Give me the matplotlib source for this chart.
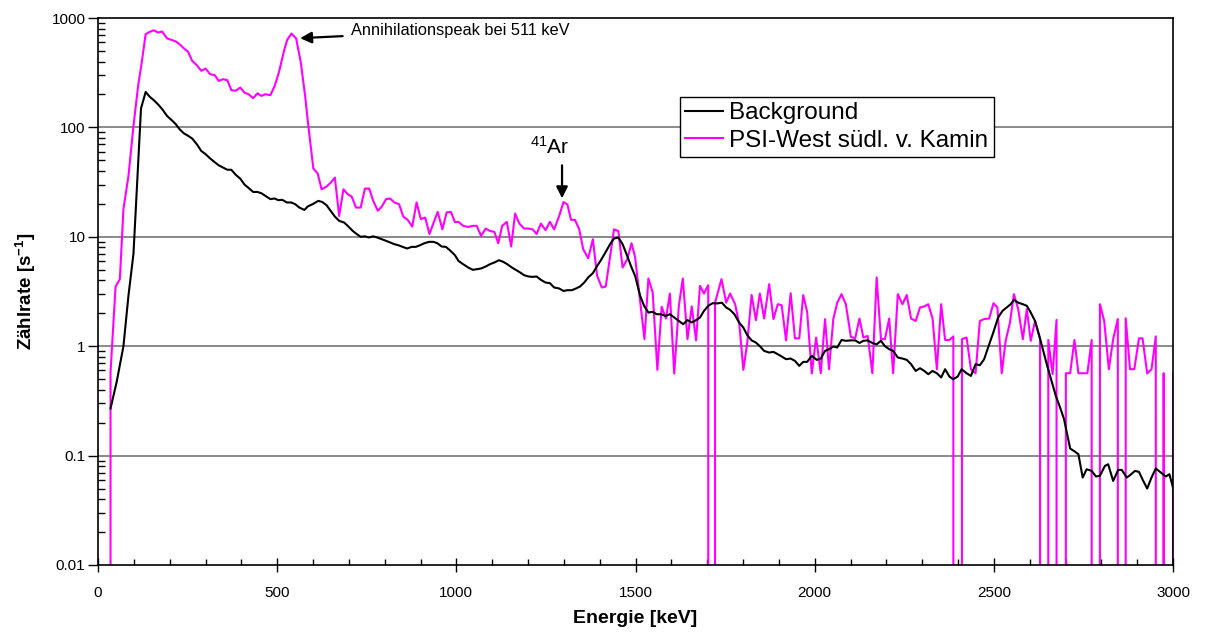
import matplotlib
matplotlib.use("Agg")
import matplotlib.pyplot as plt
from matplotlib.ticker import FixedLocator, FixedFormatter, MultipleLocator, LogLocator, NullFormatter

plt.rcParams['font.family'] = ['Liberation Sans', 'DejaVu Sans']

# ---------------- data ----------------
bg_energy = [35, 52, 71, 85, 99, 120, 133, 144, 156, 167, 179, 193, 205, 217, 228, 240, 251, 263, 276, 288,
             300, 313, 326, 337, 349, 361, 372, 384, 397, 409, 420, 433, 445, 456, 467, 481, 493, 503, 514, 527,
             539, 550, 562, 576, 585, 599, 615, 626, 638, 649, 661, 673, 687, 699, 711, 722, 733, 745, 756, 768,
             779, 792, 804, 815, 827, 838, 850, 863, 875, 887, 899, 911, 924, 936, 947, 959, 971, 984, 996, 1006,
             1019, 1033, 1046, 1057, 1069, 1082, 1094, 1106, 1119, 1131, 1142, 1155, 1166, 1178, 1189, 1201, 1213, 1224, 1236, 1249,
             1261, 1273, 1287, 1299, 1310, 1322, 1334, 1345, 1357, 1368, 1381, 1392, 1404, 1417, 1429, 1440, 1452, 1464, 1475, 1489,
             1499, 1513, 1524, 1536, 1548, 1559, 1571, 1584, 1596, 1608, 1621, 1633, 1645, 1657, 1669, 1680, 1691, 1703, 1715, 1728,
             1741, 1753, 1764, 1776, 1789, 1801, 1812, 1824, 1836, 1847, 1859, 1873, 1885, 1897, 1908, 1920, 1933, 1945, 1957, 1968,
             1979, 1992, 2006, 2017, 2029, 2040, 2052, 2063, 2075, 2087, 2101, 2113, 2125, 2136, 2148, 2161, 2173, 2185, 2196, 2208,
             2219, 2232, 2245, 2257, 2269, 2282, 2294, 2306, 2317, 2329, 2341, 2353, 2364, 2376, 2387, 2399, 2410, 2424, 2436, 2449,
             2461, 2473, 2487, 2497, 2512, 2524, 2536, 2547, 2556, 2568, 2581, 2592, 2603, 2615, 2627, 2638, 2649, 2661, 2673, 2685,
             2696, 2713, 2724, 2736, 2748, 2759, 2773, 2785, 2796, 2810, 2819, 2833, 2847, 2857, 2871, 2880, 2894, 2905, 2917, 2928,
             2940, 2952, 2966, 2980, 2990, 3000]
bg_rate = [0.27, 0.47, 1.0, 2.9, 7.0, 149, 211, 191, 177, 163, 147, 127, 117, 107, 96, 88, 84, 79, 70, 61,
           57, 52, 48, 45, 43, 41, 41, 37, 34, 30, 28, 25.7, 25.7, 25, 23.7, 22.1, 22.4, 21.6, 21.8, 20.6,
           20.6, 19.9, 18.5, 17.6, 18.9, 19.9, 21.3, 20.8, 19.4, 17.3, 15.3, 14.0, 13.5, 12.4, 11.3, 10.6, 10.0, 10.1, 9.86, 10.1,
           9.86, 9.5, 9.18, 8.87, 8.56, 8.38, 8.09, 7.82, 8.09, 8.09, 8.38, 8.74, 8.99, 8.99, 8.74, 8.15, 8.09, 7.43, 6.79, 6.02,
           5.62, 5.24, 4.99, 5.06, 5.13, 5.35, 5.62, 5.82, 6.11, 5.90, 5.62, 5.24, 4.99, 4.72, 4.46, 4.34, 4.30, 4.34, 4.04, 3.82,
           3.77, 3.44, 3.37, 3.20, 3.25, 3.25, 3.37, 3.51, 3.82, 4.25, 4.65, 5.35, 6.15, 7.28, 8.56, 9.64, 9.86, 8.56, 6.93, 5.24,
           4.39, 2.88, 2.34, 2.03, 2.06, 1.96, 1.96, 1.89, 1.96, 1.83, 1.70, 1.59, 1.73, 1.65, 1.73, 1.83, 2.10, 2.34, 2.47, 2.46,
           2.50, 2.26, 2.15, 1.96, 1.65, 1.48, 1.26, 1.13, 1.08, 1.00, 0.906, 0.875, 0.887, 0.845, 0.805, 0.761, 0.771, 0.734, 0.661, 0.719,
           0.719, 0.816, 0.75, 0.771, 0.906, 0.939, 0.993, 0.973, 1.14, 1.12, 1.13, 1.13, 1.07, 1.12, 1.13, 1.07, 1.04, 1.12, 1.00, 0.939,
           0.906, 0.788, 0.771, 0.750, 0.685, 0.594, 0.629, 0.594, 0.555, 0.594, 0.566, 0.518, 0.616, 0.528, 0.499, 0.528, 0.616, 0.566, 0.535, 0.685,
           0.670, 0.761, 1.04, 1.29, 1.83, 2.10, 2.26, 2.42, 2.65, 2.50, 2.42, 2.34, 2.03, 1.70, 1.24, 0.906, 0.661, 0.482, 0.351, 0.275,
           0.215, 0.116, 0.110, 0.103, 0.063, 0.075, 0.0725, 0.0644, 0.0654, 0.0805, 0.0834, 0.0587, 0.074, 0.074, 0.063, 0.0662, 0.0725, 0.071, 0.0587, 0.050,
           0.063, 0.0762, 0.070, 0.0644, 0.0676, 0.051]

psi_energy = [31, 35, 49, 61, 71, 85, 99, 112, 122, 133, 144, 156, 167, 179, 193, 205, 217, 228, 240, 251,
              263, 276, 288, 300, 313, 326, 337, 349, 361, 372, 384, 397, 409, 420, 433, 445, 456, 467, 481, 493,
              505, 519, 528, 540, 553, 566, 578, 587, 601, 613, 624, 638, 650, 661, 673, 685, 697, 708, 720, 733,
              745, 757, 768, 781, 792, 804, 815, 827, 840, 852, 864, 877, 889, 901, 913, 925, 936, 948, 961, 973,
              985, 996, 1006, 1019, 1033, 1046, 1057, 1069, 1082, 1094, 1106, 1117, 1128, 1141, 1153, 1164, 1176, 1189, 1201, 1213,
              1224, 1236, 1249, 1261, 1273, 1287, 1299, 1310, 1320, 1331, 1343, 1354, 1368, 1381, 1393, 1406, 1417, 1429, 1440, 1452,
              1464, 1477, 1489, 1499, 1525, 1536, 1548, 1561, 1573, 1585, 1596, 1608, 1621, 1632, 1645, 1657, 1669, 1680, 1691, 1703,
              1714, 1722, 1740, 1753, 1764, 1778, 1790, 1801, 1812, 1824, 1836, 1847, 1859, 1873, 1885, 1897, 1908, 1920, 1933, 1945,
              1957, 1968, 1979, 1992, 2004, 2017, 2029, 2040, 2052, 2063, 2075, 2087, 2101, 2113, 2125, 2136, 2148, 2161, 2173, 2185,
              2196, 2208, 2219, 2232, 2245, 2257, 2269, 2282, 2294, 2306, 2317, 2329, 2341, 2353, 2364, 2376, 2387, 2399, 2411, 2424,
              2436, 2449, 2461, 2473, 2487, 2499, 2510, 2522, 2533, 2545, 2556, 2568, 2581, 2592, 2603, 2615, 2629, 2640, 2652, 2664,
              2675, 2688, 2701, 2713, 2725, 2736, 2750, 2761, 2773, 2785, 2796, 2808, 2821, 2833, 2846, 2857, 2868, 2880, 2892, 2905,
              2915, 2928, 2940, 2952, 2963, 2974, 2986, 3000]
psi_rate = [0, 0.58, 3.5, 4.1, 17.9, 36, 103, 240, 392, 711, 746, 773, 736, 752, 650, 631, 610, 575, 526, 494,
            405, 370, 329, 345, 306, 300, 266, 276, 270, 219, 216, 231, 208, 201, 185, 205, 194, 201, 197, 239,
            320, 500, 631, 721, 649, 392, 194, 103, 42, 38, 27.2, 28.8, 31.4, 34.8, 15.5, 27.2, 24.5, 23.3, 18.5, 18.5,
            27.6, 27.6, 21.3, 17.3, 18.9, 22.1, 22.4, 20.6, 19.9, 15.3, 14.3, 12.4, 20.6, 14.5, 15.0, 10.6, 13.3, 16.9, 11.7, 16.7,
            16.9, 13.6, 13.7, 12.6, 12.3, 12.6, 12.6, 10.2, 11.9, 11.3, 11.1, 8.74, 12.6, 13.7, 8.15, 16.3, 13.2, 11.9, 11.9, 11.7,
            10.6, 13.2, 11.5, 13.7, 11.7, 15.5, 20.8, 19.7, 14.3, 14.3, 11.7, 7.7, 6.37, 9.5, 4.39, 3.44, 3.51, 6.6, 11.7, 11.3,
            5.24, 6.24, 8.74, 6.47, 1.16, 4.16, 3.10, 0.608, 2.29, 1.79, 3.03, 0.563, 2.34, 4.16, 1.16, 2.31, 1.13, 3.56, 3.03, 3.61,
            0, 2.5, 4.1, 2.5, 3.03, 2.42, 1.56, 0.608, 1.08, 2.94, 1.73, 3.03, 1.79, 3.69, 1.77, 2.42, 2.37, 1.13, 3.05, 1.18,
            1.18, 2.93, 2.06, 0.563, 1.20, 0.567, 1.77, 0.616, 1.77, 2.5, 2.99, 2.42, 1.22, 1.18, 1.79, 1.20, 1.24, 0.566, 4.25, 1.16,
            1.16, 1.79, 0.566, 2.99, 2.42, 2.94, 1.79, 1.70, 2.26, 2.31, 2.42, 1.79, 0.616, 2.42, 1.14, 1.14, 1.23, 0, 1.16, 1.2,
            0.616, 0.566, 1.70, 1.77, 1.79, 2.47, 2.26, 0.566, 1.12, 1.65, 2.99, 2.18, 1.16, 2.18, 1.12, 1.70, 1.16, 0, 1.14, 0.555,
            1.74, 0, 0.566, 0.566, 1.14, 0.566, 0.566, 0.566, 1.14, 0, 2.42, 1.70, 0.616, 1.16, 1.77, 0, 1.80, 0.616, 0.616, 1.18,
            1.18, 0.563, 0.616, 1.23, 0, 0.566, 0, 0.566]

series_labels = ["Background", "PSI-West südl. v. Kamin"]
xticks = [0, 500, 1000, 1500, 2000, 2500, 3000]
ytick_values = [0.01, 0.1, 1, 10, 100, 1000]
ytick_labels = ["0.01", "0.1", "1", "10", "100", "1000"]

# ---------------- figure ----------------
W, H = 1205, 633
fig = plt.figure(figsize=(W / 100, H / 100), dpi=100)
ax = fig.add_axes([98 / W, 1 - 565 / H, (1173 - 98) / W, (565 - 18) / H])

ax.set_yscale('log', nonpositive='clip')
ax.set_xlim(0, 3000)
ax.set_ylim(0.01, 1000)

for yv in [0.1, 1, 10, 100]:
    ax.axhline(yv, color='#808080', lw=1.3, zorder=1)

ax.plot(bg_energy, bg_rate, color='black', lw=1.5, label=series_labels[0], zorder=3)
ax.plot(psi_energy, psi_rate, color='#FF00FF', lw=1.5, label=series_labels[1], zorder=2)

ax.xaxis.set_major_locator(FixedLocator(xticks))
ax.xaxis.set_minor_locator(MultipleLocator(100))
ax.yaxis.set_major_locator(FixedLocator(ytick_values))
ax.yaxis.set_major_formatter(FixedFormatter(ytick_labels))
ax.yaxis.set_minor_locator(LogLocator(base=10, subs=range(2, 10), numticks=20))
ax.yaxis.set_minor_formatter(NullFormatter())

ax.tick_params(axis='x', which='major', direction='inout', length=10, width=1, labelsize=11, pad=10)
ax.tick_params(axis='x', which='minor', direction='in', length=4, width=1)
ax.tick_params(axis='y', which='major', direction='out', length=7, width=1, labelsize=11, pad=2)
ax.tick_params(axis='y', which='minor', direction='in', length=5, width=1)

for s in ax.spines.values():
    s.set_color('black')
    s.set_linewidth(1.2)

ax.set_xlabel("Energie [keV]", fontsize=14, fontweight='bold', labelpad=7)
ax.set_ylabel("Zählrate [s$\\mathregular{^{-1}}$]", fontsize=13.5, fontweight='bold', labelpad=10)

leg = ax.legend(loc='upper left', bbox_to_anchor=((680 - 98) / 1075, (565 - 97) / 547),
                fontsize=17.5, frameon=True, fancybox=False, edgecolor='black', framealpha=1,
                handlelength=1.55, handletextpad=0.25, borderpad=0.22, labelspacing=0.22, borderaxespad=0)
leg.get_frame().set_linewidth(1.0)

ax.annotate("Annihilationspeak bei 511 keV", xy=(564, 654), xytext=(706, 770),
            fontsize=11.8, ha='left', va='center',
            arrowprops=dict(arrowstyle='-|>', color='black', lw=1.6, mutation_scale=17,
                            shrinkA=4, shrinkB=0))
ax.text(1262, 66, "$\\mathregular{^{41}}$Ar", fontsize=15, ha='center', va='center')
ax.annotate("", xy=(1295, 22.5), xytext=(1295, 45),
            arrowprops=dict(arrowstyle='-|>', color='black', lw=1.6, mutation_scale=17,
                            shrinkA=0, shrinkB=0))

fig.savefig("out.png", dpi=100)
